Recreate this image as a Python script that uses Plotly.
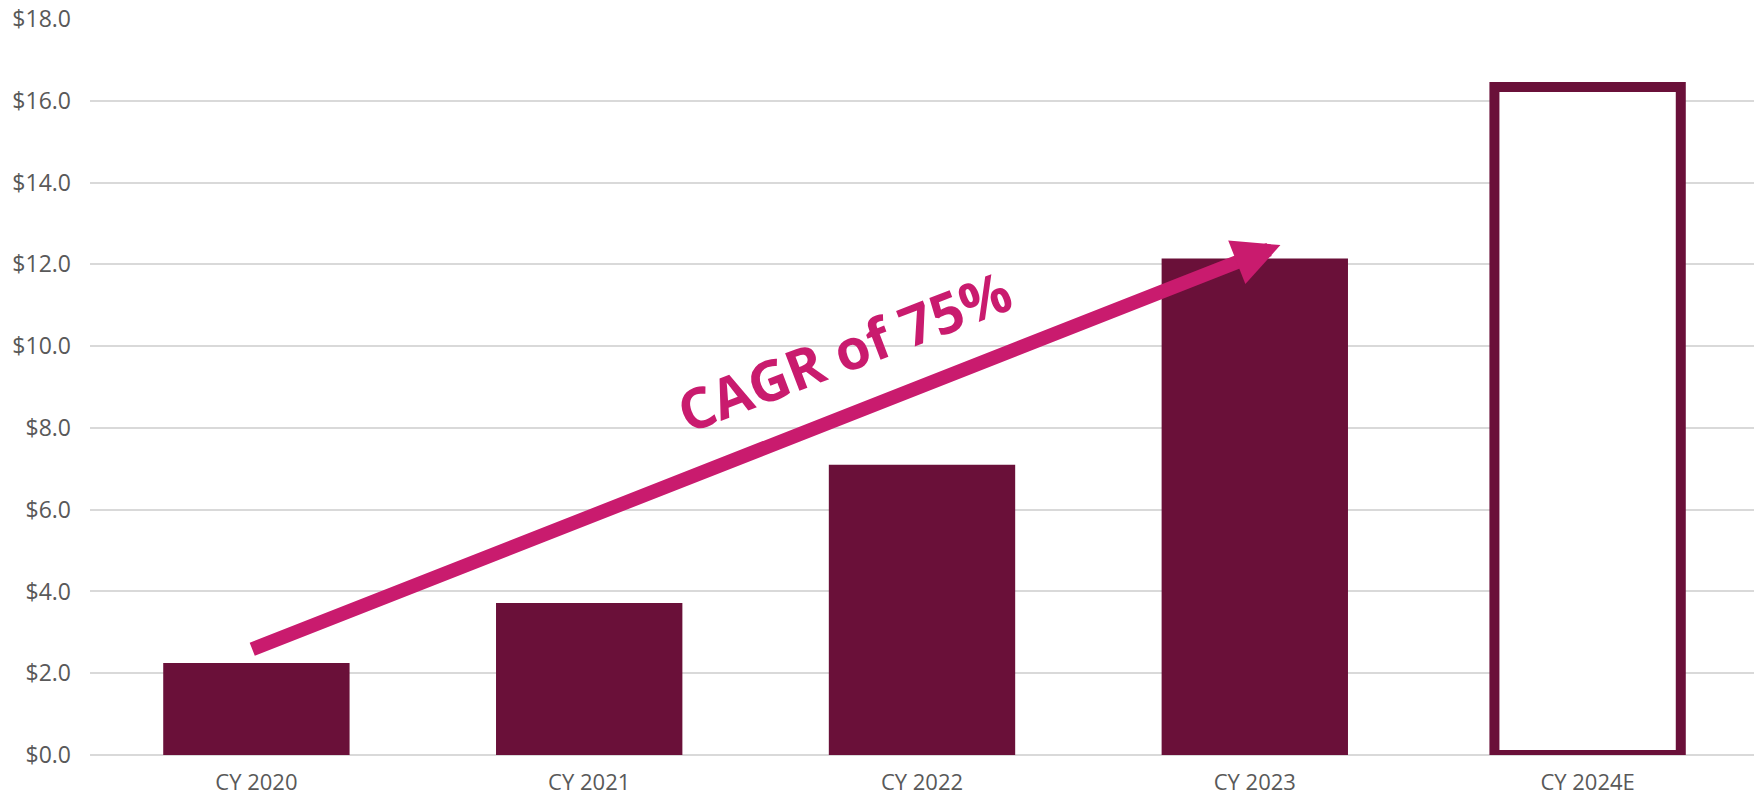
import plotly.graph_objects as go

categories = ["CY 2020", "CY 2021", "CY 2022", "CY 2023", "CY 2024E"]
revenue = [2.25, 3.72, 7.10, 12.14, 16.34]
tick_vals = [0, 2, 4, 6, 8, 10, 12, 14, 16, 18]
tick_text = ["$0.0", "$2.0", "$4.0", "$6.0", "$8.0", "$10.0", "$12.0", "$14.0", "$16.0", "$18.0"]
cagr_label = "CAGR of 75%"

DARK = "#6A1039"
PINK = "#C91B6E"
GRAY = "#595959"

fill_colors = [DARK, DARK, DARK, DARK, "white"]
line_widths = [0, 0, 0, 0, 10]

fig = go.Figure()
fig.add_trace(go.Bar(
    x=categories,
    y=revenue,
    marker=dict(color=fill_colors, line=dict(color=DARK, width=line_widths)),
    cliponaxis=False,
    hoverinfo="skip",
))

# CAGR arrow
fig.add_annotation(
    x=3.077, y=12.47, ax=-0.017, ay=2.57,
    xref="x", yref="y", axref="x", ayref="y",
    text="", showarrow=True,
    arrowhead=2, arrowsize=0.67, arrowwidth=14, arrowcolor=PINK,
)
fig.add_annotation(
    x=1.767, y=9.9, xref="x", yref="y",
    text=cagr_label, showarrow=False, textangle=-21,
    font=dict(family="Open Sans", size=56, color=PINK, weight=700),
)

fig.update_layout(
    width=1764, height=797,
    margin=dict(l=90, r=10, t=19, b=42),
    plot_bgcolor="white", paper_bgcolor="white",
    bargap=0.44,
    showlegend=False,
    font=dict(family="Open Sans", color=GRAY),
)
fig.update_xaxes(
    showgrid=False, showline=False, zeroline=False, automargin=False,
    ticks="", tickfont=dict(size=22, color=GRAY),
    ticklabelstandoff=12,
)
fig.update_yaxes(
    range=[0, 18], tickvals=tick_vals, ticktext=tick_text, automargin=False,
    showgrid=True, gridcolor="#D9D9D9", gridwidth=2,
    zeroline=True, zerolinecolor="#D9D9D9", zerolinewidth=2,
    showline=False, ticks="", tickfont=dict(size=23, color=GRAY),
    ticklabelstandoff=18,
)

fig.write_html(
    "out.html",
    config={"displayModeBar": False},
    post_script="document.body.style.margin='0';document.body.style.overflow='hidden';",
)
